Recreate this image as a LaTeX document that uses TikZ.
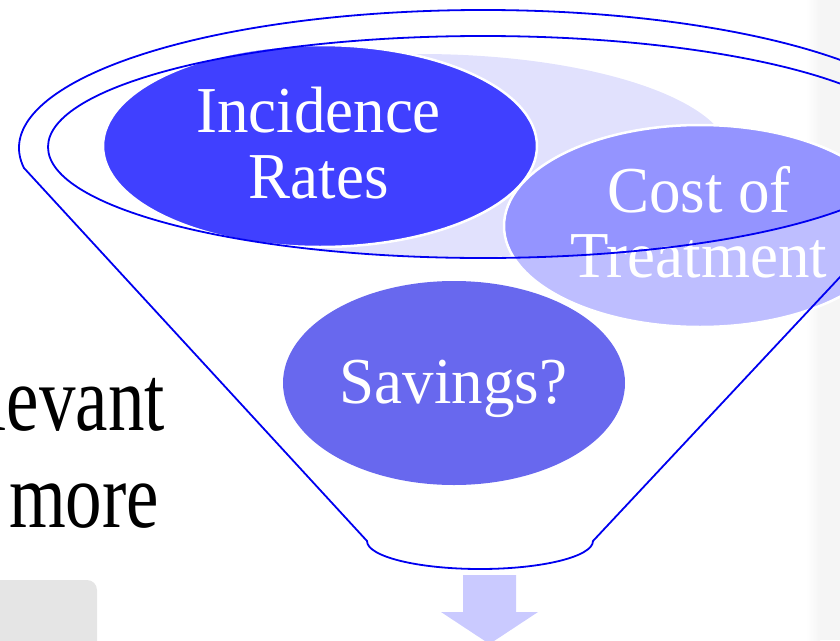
\documentclass[tikz,border=0pt]{standalone}
\usepackage{fontspec}
\setmainfont{Liberation Serif}
\definecolor{rimblue}{RGB}{0,0,240}
\definecolor{incblue}{RGB}{64,64,255}
\definecolor{incpale}{RGB}{140,140,255}
\definecolor{costblue}{RGB}{148,148,255}
\definecolor{costpale}{RGB}{190,190,255}
\definecolor{savblue}{RGB}{104,104,238}
\definecolor{lav}{RGB}{225,225,253}
\definecolor{arrowblue}{RGB}{202,202,255}
\definecolor{boxgray}{RGB}{229,229,229}
\definecolor{edgegray}{RGB}{245,245,245}
\begin{document}
\begin{tikzpicture}[x=1pt,y=-1pt,
  rim/.style={draw=rimblue,line width=1.8pt},
  bubble/.style={draw=white,line width=2.5pt},
  bubbletext/.style={text=white,inner sep=0pt,anchor=base,font=\fontsize{63}{66}\selectfont},
  sidetext/.style={text=black,inner sep=0pt,font=\fontsize{73}{80}\selectfont}]
\useasboundingbox (0,0) rectangle (840,640);

% slide edge and side box
\shade[left color=white,right color=edgegray] (806,0) rectangle (820,640);
\fill[edgegray] (820,0) rectangle (840,640);
\fill[boxgray,rounded corners=10pt] (-10,580) rectangle (97,660);

% bubbles: pale tone outside the rim opening
\fill[incpale,bubble] (320,146) ellipse [x radius=217, y radius=101];
\fill[costpale,bubble] (700,226) ellipse [x radius=196, y radius=101];

% bubbles: full tone inside the rim opening
\begin{scope}
  \clip (483,147) ellipse [x radius=435, y radius=111];
  \fill[lav] (420,157) ellipse [x radius=310, y radius=103];
  \fill[incblue,bubble] (320,146) ellipse [x radius=217, y radius=101];
  \fill[costblue,bubble] (700,226) ellipse [x radius=196, y radius=101];
\end{scope}

\fill[savblue] (454,383) ellipse [x radius=171, y radius=102];

% bubble labels
\node[bubbletext] (inc1) at (318.5,132) {\scalebox{1}[1.04]{Incidence}};
\node[bubbletext] (inc2) at (318.5,198) {\scalebox{1}[1.04]{Rates}};
\node[bubbletext] (cost1) at (699,212) {\scalebox{1}[1.04]{Cost of}};
\node[bubbletext] (cost2) at (699,277) {\scalebox{1}[1.04]{Treatment}};
\node[bubbletext] (sav) at (453.5,403) {\scalebox{1}[1.04]{Savings?}};

% text beside the funnel
\node[sidetext,anchor=base east] (side1) at (165,430) {\scalebox{1}[1.27]{levant}};
\node[sidetext,anchor=base west] (side2) at (9,527) {\scalebox{1}[1.27]{more}};

% funnel outline and rim
\draw[rim] (367,541) -- (23.9,167.9)
  arc[start angle=171.7, end angle=368.3, x radius=464, y radius=138]
  -- (593,541)
  arc[start angle=0, end angle=180, x radius=113, y radius=28] -- cycle;
\draw[rim] (483,147) ellipse [x radius=435, y radius=111];

% output arrow
\fill[arrowblue] (463,575) -- (516,575) -- (516,612) -- (538,612)
  -- (489.5,644) -- (441,612) -- (463,612) -- cycle;
\end{tikzpicture}
\end{document}
